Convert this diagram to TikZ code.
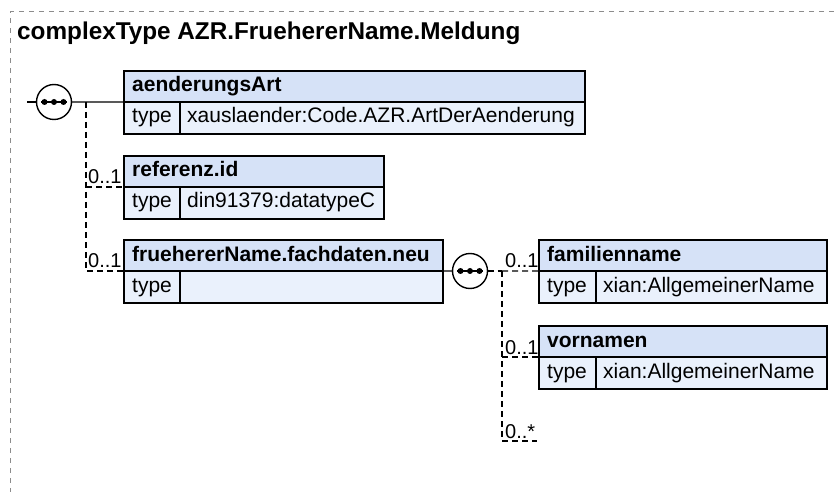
\documentclass[tikz,border=0pt]{standalone}
\usepackage{fontspec}
\setmainfont{Liberation Sans}
\definecolor{hdrfill}{RGB}{214,226,247}
\definecolor{rowfill}{RGB}{234,241,252}
\definecolor{framec}{RGB}{140,140,140}
\tikzset{
  cell/.style={draw=black, line width=1.4bp, rectangle, inner sep=0pt, outer sep=0pt, minimum height=#1},
  hdrcell/.style={cell=31bp, fill=hdrfill},
  rowcell/.style={cell=32bp, fill=rowfill},
  boxtext/.style={anchor=base west, inner sep=0pt, font=\fontsize{21bp}{24bp}\selectfont},
  boxtitle/.style={anchor=base west, inner sep=0pt, font=\fontsize{21bp}{24bp}\selectfont\bfseries},
  lbl/.style={anchor=base west, inner sep=0pt, font=\fontsize{20bp}{22bp}\selectfont},
  seqnode/.style={circle, draw=black, line width=1.4bp, fill=white, minimum size=35bp, inner sep=0pt, outer sep=0pt},
  conn/.style={draw=black, line width=1.3bp},
  dconn/.style={draw=black, line width=1.3bp, dash pattern=on 6bp off 4bp},
  framestyle/.style={draw=framec, line width=1bp, dash pattern=on 5bp off 5bp}
}
\newcommand\xsdbox[7]{%
  \node[hdrcell, minimum width=#4bp, anchor=north west] (#1) at (#2,#3) {};
  \node[rowcell, minimum width=#6bp, anchor=north west] (#1-k) at (#1.south west) {};
  \node[rowcell, minimum width={#4bp-#6bp}, anchor=north west] (#1-v) at (#1-k.north east) {};
  \node[boxtitle] (#1-t) at ([xshift=8bp,yshift=-21bp]#1.north west) {#5};
  \node[boxtext] (#1-kt) at ([xshift=8bp,yshift=-21bp]#1-k.north west) {type};
  \node[boxtext] (#1-vt) at ([xshift=7bp,yshift=-21bp]#1-v.north west) {#7};
}
\newcommand\seqdots[1]{%
  \draw[line width=1.4bp] ([xshift=-13bp]#1.center) -- ([xshift=13bp]#1.center);
  \fill ([xshift=-9.5bp]#1.center) circle (3bp);
  \fill (#1.center) circle (3bp);
  \fill ([xshift=9.5bp]#1.center) circle (3bp);
}
\begin{document}
\begin{tikzpicture}[x=1bp, y=-1bp]
\useasboundingbox (0,0) rectangle (834,492);
\fill[white] (0,0) rectangle (834,492);
% outer frame
\coordinate (fr1) at (834,12);
\coordinate (fr2) at (10,12);
\coordinate (fr3) at (10,492);
\draw[framestyle] (fr1) -- (fr2) -- (fr3);
\node[anchor=base west, inner sep=0pt, font=\fontsize{24.3bp}{28bp}\selectfont\bfseries] (title) at (17,40) {complexType AZR.FruehererName.Meldung};

% boxes
\xsdbox{aend}{124}{71}{461}{aenderungsArt}{56}{xauslaender:Code.AZR.ArtDerAenderung}
\xsdbox{ref}{124}{156}{260}{referenz.id}{56}{din91379:datatypeC}
\xsdbox{fach}{124}{240}{319}{fruehererName.fachdaten.neu}{56}{}
\xsdbox{fam}{539}{240}{288}{familienname}{57}{xian:AllgemeinerName}
\xsdbox{vor}{539}{326}{288}{vornamen}{57}{xian:AllgemeinerName}

% sequence 1
\coordinate (in1) at (27,102);
\node[seqnode] (s1) at (54,102) {};
\seqdots{s1}
\draw[conn] (in1) -- (s1);
\draw[conn] (s1) -- (aend-k.north west);
\coordinate (j1) at (86,102);
\draw[dconn] (j1) |- (fach-k.north west);
\draw[dconn] (j1 |- ref-k.north west) -- (ref-k.north west);
\node[lbl] (l1) at (88,184) {0..1};
\node[lbl] (l2) at (88,268) {0..1};

% sequence 2
\node[seqnode] (s2) at (470,271) {};
\seqdots{s2}
\draw[conn] (fach-v.north east) -- (s2);
\coordinate (j2) at (502,271);
\coordinate (e3) at (537,441);
\draw[dconn] (s2) -- (j2);
\draw[dconn] (j2) |- (e3);
\draw[dconn] (j2) -- (fam-k.north west);
\draw[dconn] (j2 |- vor-k.north west) -- (vor-k.north west);
\node[lbl] (l3) at (505,268) {0..1};
\node[lbl] (l4) at (505,354) {0..1};
\node[lbl] (l5) at (505,438) {0..*};
\end{tikzpicture}
\end{document}
